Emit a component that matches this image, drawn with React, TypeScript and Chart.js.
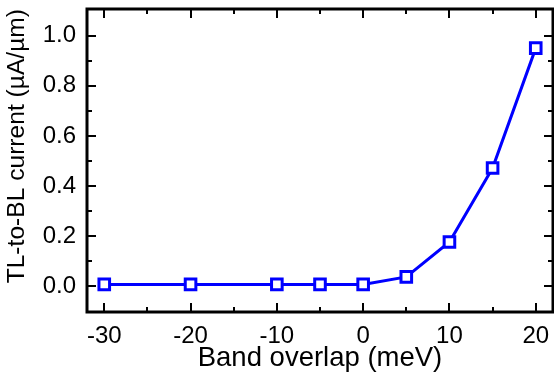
import React, { useEffect, useRef } from "react";
import { Chart, registerables } from "chart.js";

Chart.register(...registerables);

const xValues = [-30, -20, -10, -5, 0, 5, 10, 15, 20];
const yValues = [0.008, 0.008, 0.008, 0.008, 0.008, 0.038, 0.177, 0.472, 0.95];
const xMajorTicks = [-30, -20, -10, 0, 10, 20];
const xMinorTicks = [-25, -15, -5, 5, 15];
const yMajorTicks = [0, 0.2, 0.4, 0.6, 0.8, 1.0];
const yMinorTicks = [0.1, 0.3, 0.5, 0.7, 0.9];
const xTitle = "Band overlap (meV)";
const yTitle = "TL-to-BL current (\u00b5A/\u00b5m)";

const FONT = "'Liberation Sans', Arial, sans-serif";

const framePlugin = {
  id: "frameTicks",
  beforeDatasetsDraw(chart: any) {
    const { ctx, chartArea } = chart;
    const { left, right, top, bottom } = chartArea;
    const xs = chart.scales.x;
    const ys = chart.scales.y;
    ctx.save();
    ctx.strokeStyle = "#000";
    ctx.lineCap = "butt";
    ctx.lineWidth = 2;
    const majorLen = 9;
    const minorLen = 5;
    const drawX = (vals: number[], len: number) => {
      vals.forEach((v) => {
        const px = Math.round(xs.getPixelForValue(v));
        ctx.beginPath();
        ctx.moveTo(px, bottom);
        ctx.lineTo(px, bottom - len);
        ctx.moveTo(px, top);
        ctx.lineTo(px, top + len);
        ctx.stroke();
      });
    };
    const drawY = (vals: number[], len: number) => {
      vals.forEach((v) => {
        const py = Math.round(ys.getPixelForValue(v));
        ctx.beginPath();
        ctx.moveTo(left, py);
        ctx.lineTo(left + len, py);
        ctx.moveTo(right, py);
        ctx.lineTo(right - len, py);
        ctx.stroke();
      });
    };
    drawX(xMajorTicks, majorLen);
    drawX(xMinorTicks, minorLen);
    drawY(yMajorTicks, majorLen);
    drawY(yMinorTicks, minorLen);
    ctx.lineWidth = 3;
    ctx.strokeRect(left, top, right - left, bottom - top);
    ctx.restore();
  },
};

export default function App() {
  const canvasRef = useRef<HTMLCanvasElement | null>(null);

  useEffect(() => {
    if (!canvasRef.current) return;
    const chart = new Chart(canvasRef.current, {
      type: "line",
      data: {
        datasets: [
          {
            data: xValues.map((x, i) => ({ x, y: yValues[i] })),
            borderColor: "#0000ff",
            borderWidth: 3,
            pointStyle: "rect",
            pointRadius: 7.5,
            pointBorderWidth: 3,
            pointBackgroundColor: "#ffffff",
            pointBorderColor: "#0000ff",
            tension: 0,
            clip: false as any,
          },
        ],
      },
      options: {
        responsive: false,
        animation: false,
        events: [],
        layout: { autoPadding: false, padding: { top: 9, right: 1, left: 0, bottom: 0 } },
        plugins: {
          legend: { display: false },
          tooltip: { enabled: false },
        },
        scales: {
          x: {
            type: "linear",
            min: -32,
            max: 22,
            grid: { display: false, drawTicks: false },
            border: { display: false },
            afterBuildTicks: (scale: any) => {
              scale.ticks = xMajorTicks.map((v) => ({ value: v }));
            },
            afterFit: (scale: any) => {
              scale.height = 63;
              scale.paddingLeft = 0;
              scale.paddingRight = 0;
            },
            ticks: {
              color: "#000",
              padding: 10,
              maxRotation: 0,
              autoSkip: false,
              font: { family: FONT, size: 24 },
              callback: (v: any) => String(v),
            },
            title: {
              display: true,
              text: xTitle,
              color: "#000",
              font: { family: FONT, size: 27.5 },
              padding: { top: 0, bottom: 0 },
            },
          },
          y: {
            type: "linear",
            min: -0.102,
            max: 1.106,
            grid: { display: false, drawTicks: false },
            border: { display: false },
            afterBuildTicks: (scale: any) => {
              scale.ticks = yMajorTicks.map((v) => ({ value: v }));
            },
            afterFit: (scale: any) => {
              scale.width = 87;
              scale.paddingTop = 0;
              scale.paddingBottom = 0;
            },
            ticks: {
              color: "#000",
              padding: 11,
              autoSkip: false,
              font: { family: FONT, size: 24 },
              callback: (v: any) => Number(v).toFixed(1),
            },
            title: {
              display: true,
              text: yTitle,
              align: "end",
              color: "#000",
              font: { family: FONT, size: 24.6 },
              padding: { top: 2, bottom: 0 },
            },
          },
        },
      },
      plugins: [framePlugin],
    });
    return () => chart.destroy();
  }, []);

  return (
    <div style={{ position: "fixed", left: 0, top: 0, width: 554, height: 375, background: "#fff" }}>
      <canvas ref={canvasRef} width={554} height={375} style={{ display: "block", width: 554, height: 375 }} />
    </div>
  );
}
